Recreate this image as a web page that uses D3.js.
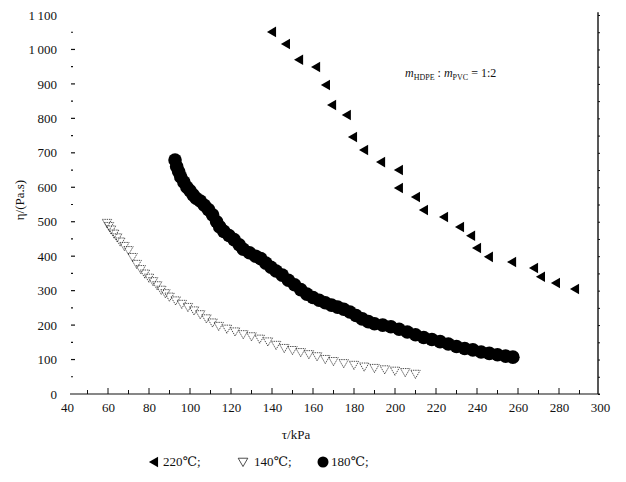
<!DOCTYPE html>
<html>
<head>
<meta charset="utf-8">
<script src="https://cdn.jsdelivr.net/npm/d3@7"></script>
<style>
  body { margin: 0; background: #fff; }
  svg { display: block; }
  text { font-family: "Liberation Serif", "DejaVu Serif", serif; fill: #111; }
</style>
</head>
<body>
<svg id="chart"></svg>
<script>
// tick labels
const xTicks = [40, 60, 80, 100, 120, 140, 160, 180, 200, 220, 240, 260, 280, 300];
const yTicks = [0, 100, 200, 300, 400, 500, 600, 700, 800, 900, 1000, 1100];

// 220 C series (left triangles)
const s220x = [140.5, 147.3, 153.7, 162, 166.8, 169.8, 177, 180, 185.4, 193.7, 202.4, 202.4,
  210.7, 214.6, 224.4, 232.2, 237.6, 240.5, 246.3, 257.6, 268.3, 271.7, 279, 288.3];
const s220y = [1051, 1016, 970, 949, 897, 839, 810, 746, 708, 673, 650, 598,
  572, 534, 514, 485, 459, 424, 398, 383, 366, 340, 322, 305];

// 140 C series (open down triangles)
const s140x = [59.5, 60.5, 61.5, 63, 64.5, 66, 68, 70, 72, 74, 76, 78, 80, 82, 84, 86, 88, 90,
  93, 96, 99, 102, 105, 108, 111, 114, 118, 122, 126, 130, 134, 138, 142, 146, 150, 154,
  158, 162, 166, 170, 175, 180, 185, 190, 195, 200, 205, 210];
const s140y = [499, 490, 480, 468, 457, 445, 432, 420, 400, 380, 365, 352, 340, 330, 318, 305, 295, 285,
  274, 264, 255, 245, 234, 222, 210, 200, 192, 184, 176, 170, 163, 155, 145, 136, 130, 124,
  118, 112, 104, 98, 92, 87, 82, 78, 74, 70, 66, 61];

// 180 C series (filled circles)
const s180x = [92.7, 93.5, 94.5, 95.5, 97, 98.5, 100, 101.5, 103, 105, 107, 109, 111, 113, 114.5,
  116.5, 119, 121.5, 124, 126, 129, 132, 134.5, 137, 139.5, 142, 145, 148, 151, 154, 157, 160,
  163, 166, 169, 172, 175, 178, 181, 184, 187, 190, 194, 198, 202, 206, 210, 214, 218, 222,
  226, 230, 234, 238, 242, 246, 250, 254, 257.5];
const s180y = [679, 660, 645, 630, 615, 600, 590, 578, 568, 560, 548, 535, 520, 500, 485,
  472, 460, 448, 433, 420, 410, 400, 393, 380, 368, 357, 345, 330, 317, 303, 290, 280,
  272, 265, 258, 252, 246, 238, 228, 218, 210, 204, 200, 195, 188, 180, 172, 164, 158, 152,
  145, 138, 132, 128, 122, 118, 114, 110, 107];

const W = 626, H = 482;
const svg = d3.select('#chart').attr('width', W).attr('height', H);

const x = d3.scaleLinear().domain([40, 300]).range([67, 600]);
const y = d3.scaleLinear().domain([0, 1100]).range([394, 15]);

const fmtY = d => d >= 1000 ? '1\u2009' + String(d).slice(1) : String(d);

// x axis
const xAxis = d3.axisBottom(x).tickValues(xTicks).tickSize(0).tickPadding(9)
  .tickFormat(d => String(d));
const gx = svg.append('g').attr('transform', `translate(0,${y(0)})`).call(xAxis);
gx.select('.domain').attr('stroke', '#111').attr('stroke-width', 1.2).attr('d', `M${x(40) + 3},0H${x(300)}`);
gx.selectAll('text').attr('font-size', 13).attr('fill', '#111');
// small upward ticks
svg.append('g').selectAll('line')
  .data(d3.range(50, 300, 10))
  .join('line')
  .attr('x1', d => x(d)).attr('x2', d => x(d))
  .attr('y1', y(0)).attr('y2', d => y(0) - (d % 20 === 0 ? 6 : 4))
  .attr('stroke', '#111').attr('stroke-width', 1);

// y axis (labels only, small dashes)
const yAxis = d3.axisLeft(y).tickValues(yTicks).tickSize(0).tickPadding(16).tickFormat(fmtY);
const gy = svg.append('g').attr('transform', `translate(${x(40) + 6},0)`).call(yAxis);
gy.select('.domain').remove();
gy.selectAll('text').attr('font-size', 13).attr('fill', '#111');
svg.append('g').selectAll('line')
  .data(d3.range(50, 1100, 50))
  .join('line')
  .attr('x1', x(40) + 4).attr('x2', d => x(40) + (d % 100 === 0 ? 8 : 6))
  .attr('y1', d => y(d)).attr('y2', d => y(d))
  .attr('stroke', '#111').attr('stroke-width', 1.2);

// right frame line
const yr = d3.axisLeft(y).tickValues(d3.range(0, 1150, 50)).tickSize(2).tickFormat('');
svg.append('g').attr('transform', `translate(${x(300)},0)`).call(yr)
  .call(g => g.select('.domain').attr('d', `M-2,${y(0)}V${y(1108)}`).attr('stroke', '#111').attr('stroke-width', 1.4))
  .call(g => g.selectAll('line').attr('stroke', '#111'));

// axis titles
svg.append('text').attr('x', 296).attr('y', 439).attr('text-anchor', 'middle')
  .attr('font-size', 13).text('τ/kPa');
svg.append('text').attr('transform', 'translate(24,200) rotate(-90)').attr('text-anchor', 'middle')
  .attr('font-size', 13).text('η/(Pa.s)');

// annotation
const ann = svg.append('text').attr('x', 405).attr('y', 77).attr('font-size', 12);
ann.append('tspan').attr('font-style', 'italic').text('m');
ann.append('tspan').attr('font-size', 8).attr('dy', 3).text('HDPE');
ann.append('tspan').attr('dy', -3).text(' : ');
ann.append('tspan').attr('font-style', 'italic').text('m');
ann.append('tspan').attr('font-size', 8).attr('dy', 3).text('PVC');
ann.append('tspan').attr('dy', -3).text(' = 1:2');

// 140 series
const tri = d3.symbol().type(d3.symbolTriangle);
svg.append('g').selectAll('path')
  .data(d3.zip(s140x, s140y))
  .join('path')
  .attr('d', tri.size(38)())
  .attr('transform', d => `translate(${x(d[0])},${y(d[1])}) rotate(180)`)
  .attr('fill', 'none').attr('stroke', '#222').attr('stroke-width', 0.8)
  .attr('stroke-dasharray', '1.4,0.9');

// 180 series
svg.append('g').selectAll('circle')
  .data(d3.zip(s180x, s180y))
  .join('circle')
  .attr('cx', d => x(d[0])).attr('cy', d => y(d[1])).attr('r', 6.8)
  .attr('fill', '#000');

// 220 series
svg.append('g').selectAll('path')
  .data(d3.zip(s220x, s220y))
  .join('path')
  .attr('d', tri.size(48)())
  .attr('transform', d => `translate(${x(d[0])},${y(d[1])}) rotate(-90)`)
  .attr('fill', '#000');

// legend
const lg = svg.append('g').attr('transform', 'translate(0,466)');
lg.append('path').attr('d', tri.size(48)()).attr('transform', 'translate(155,-4) rotate(-90)').attr('fill', '#000');
lg.append('text').attr('x', 163).attr('y', 0).attr('font-size', 13).text('220℃;');
lg.append('path').attr('d', tri.size(40)()).attr('transform', 'translate(243,-5) rotate(180)')
  .attr('fill', 'none').attr('stroke', '#222').attr('stroke-width', 0.8);
lg.append('text').attr('x', 254).attr('y', 0).attr('font-size', 13).text('140℃;');
lg.append('circle').attr('cx', 323).attr('cy', -4).attr('r', 5.5).attr('fill', '#000');
lg.append('text').attr('x', 331).attr('y', 0).attr('font-size', 13).text('180℃;');
</script>
</body>
</html>
